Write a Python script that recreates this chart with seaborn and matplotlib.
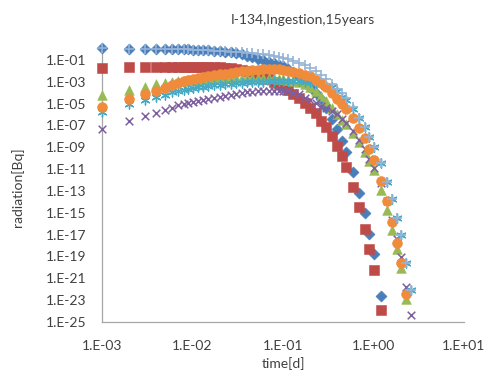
import numpy as np
import pandas as pd
import matplotlib
matplotlib.use("Agg")
import matplotlib.pyplot as plt
import seaborn as sns
from matplotlib.ticker import FixedLocator, FuncFormatter, NullLocator

nan = float("nan")

# time grid [d]
time_d = [0.001, 0.002, 0.003, 0.004, 0.005, 0.006, 0.007, 0.008, 0.009,
          0.010, 0.0115, 0.013, 0.015, 0.0175, 0.020, 0.023, 0.0265, 0.030, 0.035,
          0.040, 0.046, 0.053, 0.060, 0.070, 0.080, 0.090,
          0.100, 0.115, 0.130, 0.150, 0.175, 0.200, 0.230, 0.265, 0.300, 0.350,
          0.400, 0.450, 0.500, 0.600, 0.700, 0.800, 0.900,
          1.0, 1.2, 1.4, 1.6, 1.8, 2.0, 2.3, 2.6]

# log10 of radiation [Bq] (nan = below axis)
s1_diamond = [0.05, 0.0, 0.0, 0.0, -0.02, -0.02, -0.03, -0.03, -0.04,
              -0.05, -0.07, -0.09, -0.11, -0.15, -0.19, -0.25, -0.32, -0.40, -0.50,
              -0.60, -0.73, -0.88, -1.00, -1.15, -1.30, -1.42,
              -1.55, -1.80, -2.15, -2.60, -3.10, -3.50, -4.00, -4.60, -5.40, -6.40,
              -7.30, -8.40, -9.40, -11.25, -13.20, -15.00, -16.90,
              -18.80, -22.60, nan, nan, nan, nan, nan, nan]

s2_square = [-1.70, -1.68, -1.67, -1.67, -1.66, -1.66, -1.66, -1.65, -1.65,
             -1.65, -1.65, -1.65, -1.66, -1.67, -1.68, -1.70, -1.74, -1.80, -1.90,
             -2.00, -2.15, -2.30, -2.50, -2.75, -3.00, -3.20,
             -3.40, -3.75, -4.10, -4.50, -4.95, -5.40, -5.90, -6.60, -7.15, -7.95,
             -8.85, -9.80, -10.80, -12.60, -14.50, -16.45, -18.30,
             -20.20, -23.90, nan, nan, nan, nan, nan, nan]

s3_triangle = [-4.20, -3.75, -3.45, -3.25, -3.12, -3.02, -2.95, -2.90, -2.86,
               -2.83, -2.80, -2.77, -2.74, -2.71, -2.69, -2.67, -2.65, -2.64, -2.63,
               -2.62, -2.62, -2.62, -2.63, -2.65, -2.68, -2.71,
               -2.75, -2.82, -2.90, -3.05, -3.25, -3.50, -3.85, -4.30, -4.80, -5.40,
               -5.95, -6.50, -6.90, -7.70, -8.55, -9.40, -10.25,
               -11.10, -12.93, -14.76, -16.60, -18.30, -20.10, -22.86, nan]

s4_x = [-7.33, -6.57, -6.14, -5.83, -5.59, -5.38, -5.17, -5.04, -4.93,
        -4.83, -4.73, -4.65, -4.56, -4.46, -4.37, -4.28, -4.19, -4.12, -4.04,
        -3.98, -3.93, -3.89, -3.86, -3.84, -3.83, -3.82,
        -3.82, -3.87, -4.00, -4.15, -4.45, -4.70, -4.93, -5.20, -5.43, -5.65,
        -5.95, -6.40, -6.80, -7.50, -8.30, -9.20, -10.10,
        -10.90, -12.30, -13.90, -15.70, -17.40, -19.07, -21.80, -24.40]

s5_star = [-5.74, -5.04, -4.67, -4.40, -4.17, -3.98, -3.84, -3.74, -3.66,
           -3.60, -3.52, -3.46, -3.39, -3.33, -3.28, -3.23, -3.18, -3.14, -3.10,
           -3.06, -3.03, -3.00, -2.98, -2.96, -2.95, -2.94,
           -2.94, -2.94, -2.95, -2.97, -3.00, -3.05, -3.12, -3.25, -3.35, -3.50,
           -3.85, -4.35, -4.70, -5.50, -6.30, -7.12, -8.04,
           -8.95, -10.48, -12.17, -13.78, -15.47, -17.06, -19.60, -22.10]

s6_circle = [-5.30, -4.55, -4.15, -3.85, -3.55, -3.33, -3.12, -2.97, -2.85,
             -2.74, -2.65, -2.57, -2.48, -2.40, -2.33, -2.25, -2.17, -2.10, -2.03,
             -1.97, -1.92, -1.88, -1.86, -1.84, -1.84, -1.86,
             -1.90, -2.00, -2.10, -2.20, -2.35, -2.45, -2.80, -3.15, -3.50, -4.00,
             -4.60, -5.05, -5.45, -6.35, -7.27, -8.18, -9.19,
             -10.17, -12.07, -13.94, -15.80, -17.76, -19.60, -22.40, nan]

s7_plus = [0.05, 0.0, 0.0, 0.0, -0.02, -0.02, -0.03, -0.03, -0.04,
           -0.05, -0.07, -0.09, -0.11, -0.14, -0.17, -0.20, -0.23, -0.26, -0.30,
           -0.34, -0.38, -0.43, -0.48, -0.52, -0.60, -0.70,
           -0.80, -0.95, -1.08, -1.25, -1.47, -1.75, -2.05, -2.40, -2.75, -3.20,
           -3.65, -4.00, -4.50, -5.30, -6.30, -7.12, -8.04,
           -8.95, -10.48, -12.17, -13.78, -15.47, -17.06, -19.60, -22.10]

y_ticks_exp = list(range(-25, 0, 2))
x_ticks_exp = [-3, -2, -1, 0, 1]

title = "I-134,Ingestion,15years"
x_label = "time[d]"
y_label = "radiation[Bq]"

sns.set_style("white")
plt.rcParams["font.family"] = ["Lato", "DejaVu Sans"]

fig = plt.figure(figsize=(4.88, 3.78), dpi=100)
ax = fig.add_axes([102 / 488, 1 - 322 / 378, (464 - 102) / 488, (322 - 49) / 378])

series = [
    (s1_diamond, "D", "#4A7EBB", 32, 0.4),
    (s2_square, "s", "#BE4B48", 42, 0.4),
    (s3_triangle, "^", "#98B954", 48, 0.4),
    (s4_x, "x", "#7D60A0", 30, 1.1),
    (s5_star, (6, 2, 0), "#46AAC5", 42, 1.0),
    (s6_circle, "o", "#F08B3B", 50, 0.4),
    (s7_plus, "+", "#95B3D7", 50, 1.2),
]

for vals, mk, col, size, lw in series:
    df = pd.DataFrame({"t": time_d, "v": np.power(10.0, np.array(vals, dtype=float))}).dropna()
    if mk in ("x", "+") or isinstance(mk, tuple):
        sns.scatterplot(data=df, x="t", y="v", marker=mk, color=col, s=size,
                        linewidth=lw, ax=ax, clip_on=False, zorder=3)
    else:
        sns.scatterplot(data=df, x="t", y="v", marker=mk, color=col, s=size,
                        edgecolor=col, linewidth=lw, ax=ax, clip_on=False, zorder=3)

ax.set_xscale("log")
ax.set_yscale("log")
ax.set_xlim(1e-3, 1e1)
ax.set_ylim(1e-25, 1e0)

def fmt(v, pos):
    e = int(round(np.log10(v)))
    return f"1.E{e:+03d}"

ax.yaxis.set_major_locator(FixedLocator([10.0 ** e for e in y_ticks_exp]))
ax.xaxis.set_major_locator(FixedLocator([10.0 ** e for e in x_ticks_exp]))
ax.xaxis.set_minor_locator(NullLocator())
ax.yaxis.set_minor_locator(NullLocator())
ax.yaxis.set_major_formatter(FuncFormatter(fmt))
ax.xaxis.set_major_formatter(FuncFormatter(fmt))

for s in ("top", "right"):
    ax.spines[s].set_visible(False)
for s in ("left", "bottom"):
    ax.spines[s].set_color("#A6A6A6")
    ax.spines[s].set_linewidth(0.9)

ax.tick_params(axis="both", which="major", direction="out", length=4, width=0.9,
               color="#A6A6A6", labelsize=10, labelcolor="#404040")
ax.tick_params(axis="x", pad=9)
ax.tick_params(axis="y", pad=7)
ax.set_xlabel("")
ax.set_ylabel("")
ax.grid(False)

fig.text(303 / 488, 1 - 20 / 378, title, ha="center", va="center", fontsize=10, color="#404040")
fig.text(283 / 488, 1 - 364 / 378, x_label, ha="center", va="center", fontsize=10, color="#404040")
fig.text(18 / 488, 1 - 187 / 378, y_label, ha="center", va="center", rotation=90,
         fontsize=10, color="#404040")

fig.savefig("out.png", dpi=100)
